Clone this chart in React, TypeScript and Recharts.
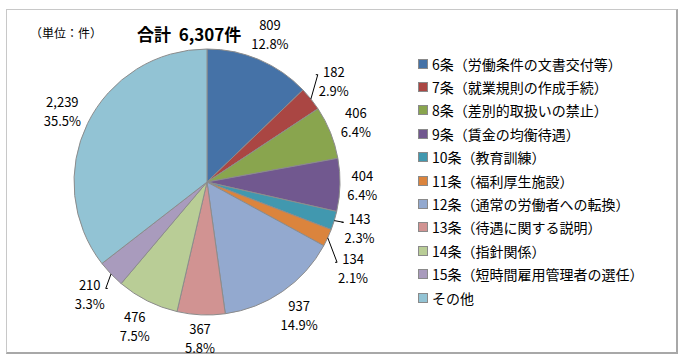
import React from 'react';
import { PieChart, Pie, Cell, Legend } from 'recharts';

const categories = [
  '6条（労働条件の文書交付等）',
  '7条（就業規則の作成手続）',
  '8条（差別的取扱いの禁止）',
  '9条（賃金の均衡待遇）',
  '10条（教育訓練）',
  '11条（福利厚生施設）',
  '12条（通常の労働者への転換）',
  '13条（待遇に関する説明）',
  '14条（指針関係）',
  '15条（短時間雇用管理者の選任）',
  'その他',
];
const counts = [809, 182, 406, 404, 143, 134, 937, 367, 476, 210, 2239];
const colors = [
  '#4572A7', '#AA4643', '#89A54E', '#71588F', '#4198AF', '#DB843D',
  '#93A9CF', '#D19392', '#B9CD96', '#A99BBD', '#92C3D4',
];
const totalLabel = '合計  6,307件';
const unitLabel = '（単位：件）';

const total = counts.reduce((a, b) => a + b, 0);
const data = categories.map((name, i) => ({ name, value: counts[i] }));

const FONT = '"Noto Sans CJK JP", "Noto Sans", sans-serif';
const RAD = Math.PI / 180;

// tracks the last right-hand label so that small slices don't collide
let lastRightY = -Infinity;

const renderLabel = (props: any) => {
  const { cx, cy, midAngle, outerRadius, value, index } = props;
  if (index === 0) lastRightY = -Infinity;
  const cos = Math.cos(-midAngle * RAD);
  const sin = Math.sin(-midAngle * RAD);
  const r = outerRadius + 4 + Math.abs(cos) * 18 + Math.abs(sin) * 18;
  const x = cx + r * cos;
  let y = cy + r * sin;
  if (cos > 0) {
    if (y - lastRightY < 40) y = lastRightY + 40;
    lastRightY = y;
  }
  const share = value / total;
  const pct = (share * 100).toFixed(1) + '%';
  const ex = cx + outerRadius * cos;
  const ey = cy + outerRadius * sin;
  const lx = x + (cos > 0 ? -16 : 16);
  const ly = y - 6;
  return (
    <g>
      {share < 0.035 && (
        <polyline
          points={`${ex},${ey} ${lx},${ly} ${lx + (cos > 0 ? -2 : 2)},${ly}`}
          fill="none"
          stroke="#000"
          strokeWidth={1}
        />
      )}
      <text x={x} y={y} textAnchor="middle" fontSize={13} fontFamily={FONT} fill="#000">
        <tspan x={x} dy={-4}>{value.toLocaleString('en-US')}</tspan>
        <tspan x={x} dy={19}>{pct}</tspan>
      </text>
    </g>
  );
};

const renderLegend = () => (
  <div style={{ fontFamily: FONT, fontSize: 14, color: '#000' }}>
    {categories.map((name, i) => (
      <div key={name} style={{ height: 23.4, display: 'flex', alignItems: 'center' }}>
        <span
          style={{
            display: 'inline-block',
            width: 8,
            height: 8,
            background: colors[i],
            border: '1px solid #8a8a8a',
            marginRight: 4,
          }}
        />
        <span>{name}</span>
      </div>
    ))}
  </div>
);

export default function App() {
  return (
    <div style={{ position: 'absolute', left: 0, top: 0, width: 686, height: 361, background: '#fff' }}>
      <div
        style={{
          position: 'absolute',
          left: 6,
          top: 9,
          width: 669,
          height: 342,
          borderTop: '1px solid #c8c8c8',
          borderLeft: '1px solid #c8c8c8',
          borderRight: '2px solid #a8a8a8',
          borderBottom: '2px solid #a8a8a8',
        }}
      />
      <div
        style={{
          position: 'absolute',
          left: 30,
          top: 24,
          fontFamily: FONT,
          fontSize: 12,
          color: '#000',
          whiteSpace: 'pre',
        }}
      >
        {unitLabel}
      </div>
      <div
        style={{
          position: 'absolute',
          left: 137,
          top: 21,
          fontFamily: FONT,
          fontSize: 17,
          fontWeight: 'bold',
          color: '#000',
          whiteSpace: 'pre',
        }}
      >
        {totalLabel}
      </div>
      <div style={{ position: 'absolute', left: 0, top: 0 }}>
        <PieChart width={686} height={361} margin={{ top: 0, right: 0, bottom: 0, left: 0 }}>
          <Pie
            data={data}
            dataKey="value"
            nameKey="name"
            cx={207}
            cy={182}
            outerRadius={133}
            startAngle={90}
            endAngle={-270}
            stroke="#8c8c8c"
            strokeWidth={1}
            label={renderLabel}
            labelLine={false}
            isAnimationActive={false}
          >
            {data.map((d, i) => (
              <Cell key={d.name} fill={colors[i]} />
            ))}
          </Pie>
          <Legend
            layout="vertical"
            align="right"
            verticalAlign="top"
            content={renderLegend}
            wrapperStyle={{ position: 'absolute', left: 418, top: 52, width: 260 }}
          />
        </PieChart>
      </div>
    </div>
  );
}
